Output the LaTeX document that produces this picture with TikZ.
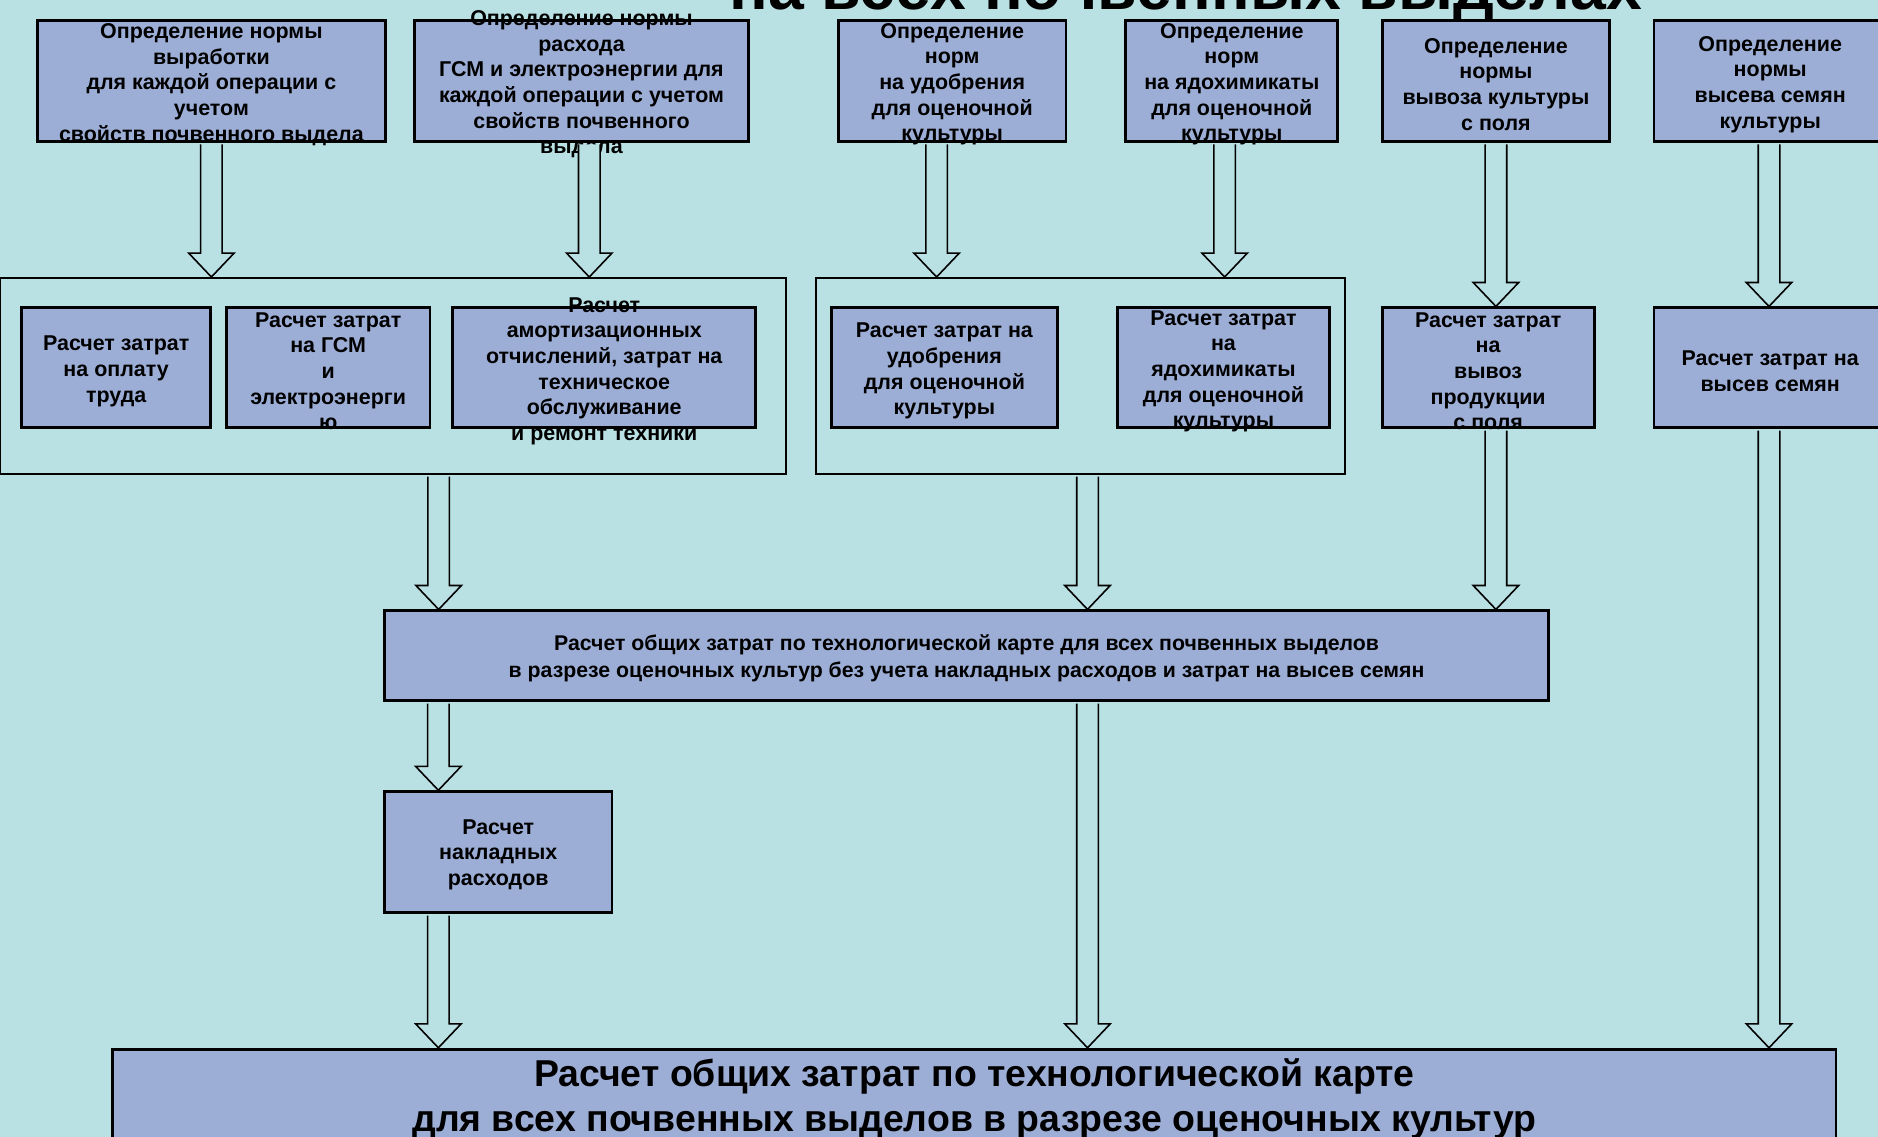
\documentclass[tikz,border=0pt]{standalone}
\usepackage{fontspec}
\setmainfont{Liberation Sans}
\usepackage{tikz}
\usetikzlibrary{calc,fit}

\definecolor{slidebg}{RGB}{185,224,227}
\definecolor{boxblue}{RGB}{157,174,214}

\tikzset{
  box/.style={draw, fill=boxblue, line width=0.8pt, inner sep=0pt},
  frame/.style={draw, line width=0.5pt, inner sep=0pt},
  txt/.style={font=\bfseries\fontsize{6.1}{7.3}\selectfont, align=center, inner sep=0pt, yshift=-1pt},
  bigtxt/.style={font=\bfseries\fontsize{10.65}{13}\selectfont, align=center, inner sep=0pt, yshift=-0.9pt},
  hollow/.style={draw, fill=slidebg, line width=0.45pt},
}

% hollow block arrow: [x shift] start, target
\newcommand{\blockarrow}[3][0]{%
  \path ($(#2)+(#1,1.3)$) coordinate (ba-s);
  \path (ba-s |- #3) coordinate (ba-t);
  \draw[hollow] ($(ba-s)+(-9,0)$) -- ($(ba-t)+(-9,-20)$) -- ($(ba-t)+(-19,-20)$)
    -- (ba-t) -- ($(ba-t)+(19,-20)$) -- ($(ba-t)+(9,-20)$) -- ($(ba-s)+(9,0)$);
}

\begin{document}
\begin{tikzpicture}[x=0.011977cm, y=-0.011977cm]
  \useasboundingbox (0,0) rectangle (1568,949);
  \clip (0,0) rectangle (1568,949);
  \fill[slidebg] (0,0) rectangle (1568,949);

  \node (title) at (990,8) [anchor=base, font=\bfseries\fontsize{18.3}{21}\selectfont] {на всех почвенных выделах};

  % norms
  \node (A1) [box, fit={(31,17) (322,118)}, label={[txt]center:{Определение нормы\\выработки\\для каждой операции с\\учетом\\свойств почвенного выдела}}] {};
  \node (A2) [box, fit={(346,17) (625,118)}, label={[txt]center:{Определение нормы\\расхода\\ГСМ и электроэнергии для\\каждой операции с учетом\\свойств почвенного\\выдела}}] {};
  \node (A3) [box, fit={(700,17) (890,118)}, label={[txt]center:{Определение\\норм\\на удобрения\\для оценочной\\культуры}}] {};
  \node (A4) [box, fit={(940,17) (1117,118)}, label={[txt]center:{Определение\\норм\\на ядохимикаты\\для оценочной\\культуры}}] {};
  \node (A5) [box, fit={(1154,17) (1344,118)}, label={[txt]center:{Определение\\нормы\\вывоза культуры\\с поля}}] {};
  \node (A6) [box, fit={(1381,17) (1575,118)}, label={[txt]center:{Определение\\нормы\\высева семян\\культуры}}] {};

  % groups of costs
  \node (G1) [frame, fit={(0.5,232) (656,396)}] {};
  \node (G2) [frame, fit={(681,232) (1123,396)}] {};

  \node (B1) [box, fit={(18,257) (176,357)}, label={[txt]center:{Расчет затрат\\на оплату\\труда}}] {};
  \node (B2) [box, fit={(189,257) (359,357)}, label={[txt]center:{Расчет затрат\\на ГСМ\\и\\электроэнерги\\ю}}] {};
  \node (B3) [box, fit={(378,257) (631,357)}, label={[txt]center:{Расчет\\амортизационных\\отчислений, затрат на\\техническое\\обслуживание\\и ремонт техники}}] {};
  \node (B4) [box, fit={(694,257) (883,357)}, label={[txt]center:{Расчет затрат на\\удобрения\\для оценочной\\культуры}}] {};
  \node (B5) [box, fit={(933,257) (1110,357)}, label={[txt]center:{Расчет затрат\\на\\ядохимикаты\\для оценочной\\культуры}}] {};
  \node (B6) [box, fit={(1154,257) (1331,357)}, label={[txt]center:{Расчет затрат\\на\\вывоз\\продукции\\с поля}}] {};
  \node (B7) [box, fit={(1381,257) (1575,357)}, label={[txt]center:{Расчет затрат на\\высев семян}}] {};

  % totals
  \node (M) [box, fit={(321,510) (1293,585)}, label={[txt, font=\bfseries\fontsize{6.05}{7.6}\selectfont, yshift=0.3pt]center:{Расчет общих затрат по технологической карте для всех почвенных выделов\\в разрезе оценочных культур без учета накладных расходов и затрат на высев семян}}] {};
  \node (N) [box, fit={(321,661) (511,762)}, label={[txt, yshift=0.3pt]center:{Расчет\\накладных\\расходов}}] {};
  \node (F) [box, fit={(94,876) (1533,954)}, label={[bigtxt]center:{Расчет общих затрат по технологической карте\\для всех почвенных выделов в разрезе оценочных культур}}] {};

  \blockarrow{A1.south}{G1.north}
  \blockarrow[6.5]{A2.south}{G1.north}
  \blockarrow[-13]{A3.south}{G2.north}
  \blockarrow[-6]{A4.south}{G2.north}
  \blockarrow{A5.south}{B6.north}
  \blockarrow[-1]{A6.south}{B7.north}
  \blockarrow[38]{G1.south}{M.north}
  \blockarrow[6]{G2.south}{M.north}
  \blockarrow[6.5]{B6.south}{M.north}
  \blockarrow[-50]{M.south -| N.north}{N.north}
  \blockarrow[-50]{N.south}{F.north}
  \blockarrow[101]{M.south}{F.north}
  \blockarrow[-1]{B7.south}{F.north}
\end{tikzpicture}
\end{document}
